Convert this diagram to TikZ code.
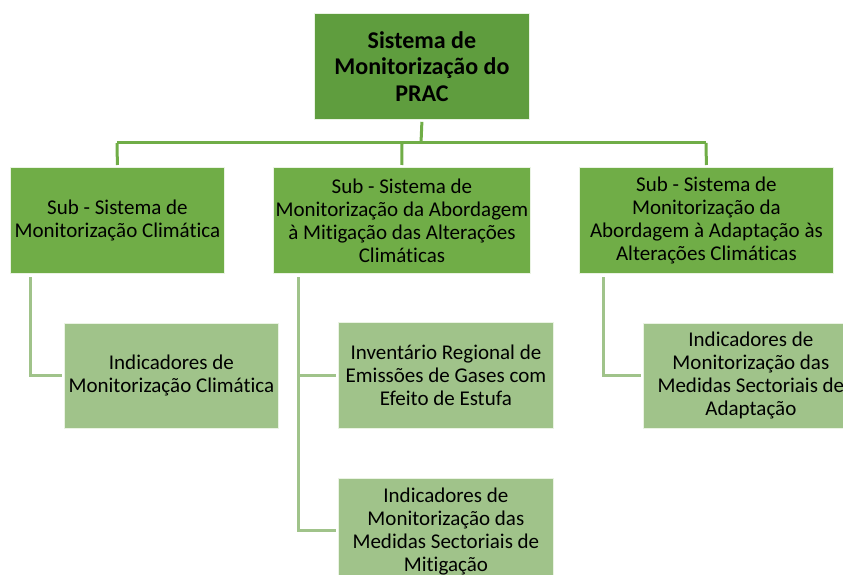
\documentclass[tikz,border=0pt]{standalone}
\usepackage{fontspec}
\setmainfont{Carlito}[Ligatures={NoCommon}]
\definecolor{topg}{HTML}{5F9D3E}
\definecolor{midg}{HTML}{70AD47}
\definecolor{leafg}{HTML}{A0C38A}
\begin{document}
\begin{tikzpicture}[x=1pt,y=-1pt,
  box/.style={draw=white!85!midg,line width=0.8pt,align=center,inner sep=0pt,anchor=north west},
  topbox/.style={box,fill=topg,font=\fontsize{24}{26.5}\selectfont\bfseries},
  subbox/.style={box,fill=midg,font=\fontsize{21}{23}\selectfont},
  leafbox/.style={box,fill=leafg,font=\fontsize{21}{23}\selectfont},
  conn/.style={draw=midg,line width=3pt},
  lconn/.style={draw=leafg,line width=3pt}]
\useasboundingbox (0,0) rectangle (843,575);
\clip (0,0) rectangle (843,575);
\node[topbox,minimum width=215pt,minimum height=106pt] (top) at (314,13) {Sistema de\\Monitorização do\\PRAC};
\node[subbox,minimum width=214pt,minimum height=106pt] (s1) at (10,167) {Sub - Sistema de\\Monitorização Climática};
\node[subbox,minimum width=257pt,minimum height=106pt] (s2) at (273,167) {Sub - Sistema de\\Monitorização da Abordagem\\à Mitigação das Alterações\\Climáticas};
\node[subbox,minimum width=254pt,minimum height=106pt] (s3) at (579,167) {Sub - Sistema de\\Monitorização da\\Abordagem à Adaptação às\\Alterações Climáticas};
\node[leafbox,minimum width=214pt,minimum height=105pt] (l1) at (64,323) {Indicadores de\\Monitorização Climática};
\node[leafbox,minimum width=215pt,minimum height=106pt] (l2) at (338,322) {Inventário Regional de\\Emissões de Gases com\\Efeito de Estufa};
\node[leafbox,minimum width=215pt,minimum height=106pt] (l3) at (338,478) {Indicadores de\\Monitorização das\\Medidas Sectoriais de\\Mitigação};
\node[leafbox,minimum width=215pt,minimum height=105pt] (l4) at (643,323) {Indicadores de\\Monitorização das\\Medidas Sectoriais de\\Adaptação};
% top-level connectors
\coordinate (bus) at (421,143);
\draw[conn] ([yshift=-2pt]top.south) -- (bus);
\draw[conn] (117,143) -- (706,143);
\draw[conn] (117,143) -- ([yshift=2pt]s1.north);
\draw[conn] (402,143) -- ([yshift=2pt]s2.north);
\draw[conn] (706,143) -- ([yshift=2pt]s3.north);
% child connectors
\draw[lconn] (30,277) |- ([xshift=-2pt]l1.west);
\draw[lconn] (298,277) |- ([xshift=-2pt]l2.west);
\draw[lconn] (298,375) |- (336,530);
\draw[lconn] (603,277) |- ([xshift=-2pt]l4.west);
\end{tikzpicture}
\end{document}
